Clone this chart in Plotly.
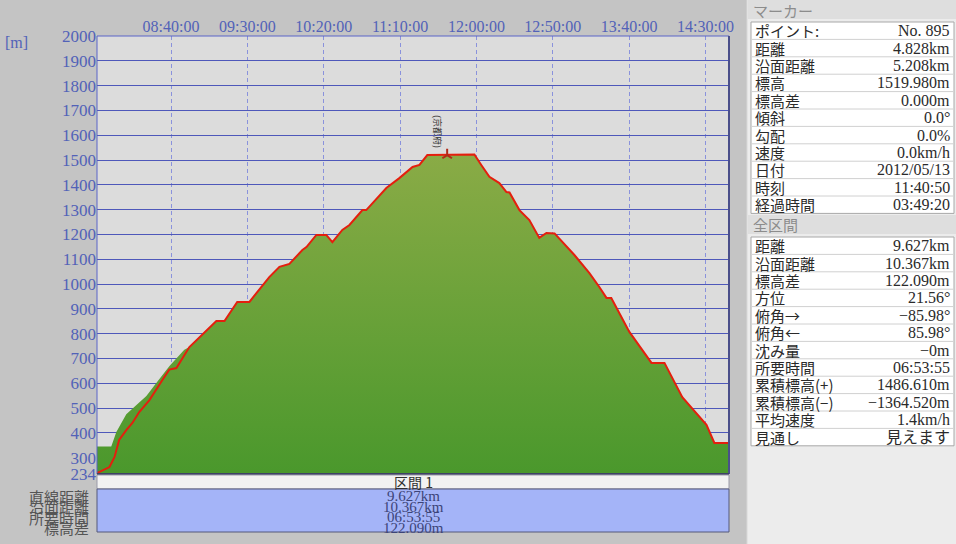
import plotly.graph_objects as go

DAY = "2012-05-13 "

# ---- red profile (time, elevation) ----
red_time = ["07:51:30", "07:59:40", "08:03:00", "08:06:00", "08:10:40", "08:14:40", "08:19:10",
            "08:25:50", "08:34:20", "08:38:50", "08:43:30", "08:52:00", "09:09:40", "09:15:00",
            "09:23:20", "09:31:20", "09:44:20", "09:51:00", "09:57:30", "10:06:00", "10:08:40",
            "10:15:10", "10:21:40", "10:25:40", "10:32:10", "10:36:50", "10:45:20", "10:47:50",
            "11:01:00", "11:09:30", "11:18:10", "11:22:40", "11:27:50", "11:58:40", "12:03:10",
            "12:08:30", "12:15:00", "12:19:40", "12:21:40", "12:28:10", "12:34:40", "12:41:10",
            "12:45:50", "12:51:10", "13:04:10", "13:14:00", "13:20:30", "13:25:10", "13:28:20",
            "13:40:10", "13:54:40", "14:03:10", "14:14:50", "14:30:40", "14:35:50", "14:45:25"]
red_elev = [238, 262, 303, 371, 411, 440, 484,
            532, 613, 655, 661, 746, 851, 851,
            928, 928, 1028, 1069, 1081, 1137, 1149,
            1198, 1198, 1169, 1218, 1238, 1298, 1298,
            1387, 1427, 1472, 1480, 1520, 1522, 1480,
            1432, 1407, 1371, 1369, 1298, 1258, 1186,
            1206, 1204, 1117, 1044, 988, 944, 944,
            807, 682, 682, 544, 432, 359, 359]

# ---- green filled profile: own start, then joins the red one ----
green_start_time = ["07:51:30", "08:00:50", "08:04:10", "08:10:40", "08:17:20", "08:23:50",
                    "08:30:20", "08:38:50", "08:48:40"]
green_start_elev = [345, 345, 403, 475, 512, 548, 601, 668, 735]
green_join_index = 11

# ---- marker ----
marker_time = ["11:40:50"]
marker_elev = [1519.98]

# ---- axes ----
x_ticks = ["08:40:00", "09:30:00", "10:20:00", "11:10:00", "12:00:00", "12:50:00", "13:40:00", "14:30:00"]
y_ticks = [234] + list(range(300, 2001, 100))
y_min, y_max = 234, 2000
t_start, t_end = "07:51:30", "14:45:25"

# ---- side panel ----
marker_labels = ["ポイント:", "距離", "沿面距離", "標高", "標高差", "傾斜", "勾配", "速度", "日付", "時刻", "経過時間"]
marker_values = ["No. 895", "4.828km", "5.208km", "1519.980m", "0.000m", "0.0°", "0.0%", "0.0km/h",
                 "2012/05/13", "11:40:50", "03:49:20"]
total_labels = ["距離", "沿面距離", "標高差", "方位", "俯角→", "俯角←", "沈み量", "所要時間",
                "累積標高(+)", "累積標高(−)", "平均速度", "見通し"]
total_values = ["9.627km", "10.367km", "122.090m", "21.56°", "−85.98°", "85.98°", "−0m", "06:53:55",
                "1486.610m", "−1364.520m", "1.4km/h", "見えます"]

# ---- bottom section ----
section_name = "区間 1"
section_labels = ["直線距離", "沿面距離", "所要時間", "標高差"]
section_values = ["9.627km", "10.367km", "06:53:55", "122.090m"]

SERIF = "Liberation Serif, DejaVu Serif, Noto Sans CJK JP, serif"
JP = "Noto Sans CJK JP, Liberation Serif, serif"
BLUE_TXT = "#5262b8"

W, H = 956, 544
L, R, T, B = 97, 729, 36, 474


def px(x):
    return (x - L) / (R - L)


def py(y):
    return (B - y) / (B - T)


fig = go.Figure()

green_time = green_start_time + red_time[green_join_index:]
green_elev = green_start_elev + red_elev[green_join_index:]

fig.add_trace(go.Scatter(
    x=[DAY + t for t in green_time], y=green_elev, mode="none", fill="tozeroy",
    fillgradient=dict(type="vertical", colorscale=[[0, "#4a982c"], [1, "#8aab46"]],
                      start=y_min, stop=1525),
    hoverinfo="skip", showlegend=False))

fig.add_trace(go.Scatter(
    x=[DAY + t for t in red_time], y=red_elev, mode="lines",
    line=dict(color="#e41f0e", width=2), hoverinfo="skip", showlegend=False))

fig.add_trace(go.Scatter(
    x=[DAY + t for t in marker_time], y=marker_elev, mode="markers",
    marker=dict(symbol="y-up", size=8, color="#9a2a1a", line=dict(color="#b02a18", width=2)),
    hoverinfo="skip", showlegend=False))

shapes = []
annotations = []

# plot frame
shapes.append(dict(type="rect", xref="paper", yref="paper", x0=0, x1=1, y0=0, y1=1,
                   line=dict(color="#5a64c8", width=1), layer="above"))
shapes.append(dict(type="line", xref="paper", yref="paper", x0=1, x1=1, y0=0, y1=1,
                   line=dict(color="#4a4f8a", width=2), layer="above"))
shapes.append(dict(type="line", xref="paper", yref="paper", x0=0, x1=1, y0=0, y1=0,
                   line=dict(color="#3e4266", width=2), layer="above"))

# bottom section band and box
shapes.append(dict(type="rect", xref="paper", yref="paper", x0=0, x1=1, y0=py(489), y1=py(475),
                   fillcolor="#f2f2f2", line=dict(color="#9a9aa8", width=1)))
shapes.append(dict(type="rect", xref="paper", yref="paper", x0=0, x1=1, y0=py(532), y1=py(489),
                   fillcolor="#a4b4f8", line=dict(color="#55587a", width=1)))
annotations.append(dict(xref="paper", yref="paper", x=0.5, y=py(482), text=section_name,
                        showarrow=False, font=dict(family=JP, size=14, color="#303030"),
                        xanchor="center", yanchor="middle"))
for i, (lab, val) in enumerate(zip(section_labels, section_values)):
    yy = 496 + i * 10.5
    annotations.append(dict(xref="paper", yref="paper", x=px(91), y=py(yy), text=lab,
                            showarrow=False, font=dict(family=JP, size=15, color="#555555"),
                            xanchor="right", yanchor="middle"))
    annotations.append(dict(xref="paper", yref="paper", x=0.5, y=py(yy), text=val,
                            showarrow=False, font=dict(family=SERIF, size=15, color="#3c4478"),
                            xanchor="center", yanchor="middle"))

# unit label
annotations.append(dict(xref="paper", yref="paper", x=px(3), y=py(42), text="[m]", showarrow=False,
                        font=dict(family=SERIF, size=16, color=BLUE_TXT), xanchor="left", yanchor="middle"))

# peak waypoint label
annotations.append(dict(xref="x", yref="y", x=DAY + marker_time[0], y=marker_elev[0],
                        text="(京都府)", showarrow=False, textangle=90,
                        font=dict(family=JP, size=9, color="#333333"),
                        xanchor="center", yanchor="middle", xshift=-9, yshift=24))

# right panel
shapes.append(dict(type="rect", xref="paper", yref="paper", x0=px(747), x1=px(960), y0=py(548), y1=py(-4),
                   fillcolor="#ececec", line=dict(color="#d8d8d8", width=1), layer="above"))


def panel(header, top_header, labels, values, box_top, row_h):
    shapes.append(dict(type="rect", xref="paper", yref="paper", x0=px(748), x1=px(956),
                       y0=py(top_header + 19), y1=py(top_header), fillcolor="#dedede",
                       line=dict(width=0), layer="above"))
    annotations.append(dict(xref="paper", yref="paper", x=px(751), y=py(top_header + 10), text=header,
                            showarrow=False, font=dict(family=JP, size=15, color="#8c8c8c"),
                            xanchor="left", yanchor="middle"))
    n = len(labels)
    box_bot = box_top + n * row_h
    shapes.append(dict(type="rect", xref="paper", yref="paper", x0=px(751), x1=px(954),
                       y0=py(box_bot), y1=py(box_top), fillcolor="#ffffff",
                       line=dict(color="#a8a8a8", width=1), layer="above"))
    for i in range(1, n):
        yy = box_top + i * row_h
        shapes.append(dict(type="line", xref="paper", yref="paper", x0=px(752), x1=px(953),
                           y0=py(yy), y1=py(yy), line=dict(color="#d0d0d0", width=1), layer="above"))
    for i, (lab, val) in enumerate(zip(labels, values)):
        yc = box_top + (i + 0.5) * row_h
        annotations.append(dict(xref="paper", yref="paper", x=px(753), y=py(yc), text=lab,
                                showarrow=False, font=dict(family=JP, size=15, color="#2a2a2a"),
                                xanchor="left", yanchor="middle"))
        annotations.append(dict(xref="paper", yref="paper", x=px(952), y=py(yc), text=val,
                                showarrow=False, font=dict(family=SERIF, size=16, color="#2a2a2a"),
                                xanchor="right", yanchor="middle"))


panel("マーカー", 0, marker_labels, marker_values, 22, 17.4)
panel("全区間", 215, total_labels, total_values, 237, 17.4)

fig.update_layout(
    width=W, height=H,
    margin=dict(l=L, r=W - R, t=T, b=H - B, pad=0),
    paper_bgcolor="#c4c4c4", plot_bgcolor="#dcdcdc",
    shapes=shapes, annotations=annotations,
    showlegend=False,
    xaxis=dict(side="top", type="date", range=[DAY + t_start, DAY + t_end],
               tickvals=[DAY + t for t in x_ticks], ticktext=x_ticks,
               tickfont=dict(family=SERIF, size=16, color=BLUE_TXT),
               showgrid=True, gridcolor="#8a92dc", griddash="4px,3px", gridwidth=1,
               ticks="", zeroline=False, showline=False, fixedrange=True),
    yaxis=dict(range=[y_min, y_max], tickvals=y_ticks,
               tickfont=dict(family=SERIF, size=17, color=BLUE_TXT),
               showgrid=True, gridcolor="#4e58ba", gridwidth=1,
               ticks="", ticklen=0, zeroline=False, showline=False, fixedrange=True),
)

fig.write_html("out.html", config={"displayModeBar": False},
               post_script="document.body.style.margin='0';document.body.style.overflow='hidden';")
